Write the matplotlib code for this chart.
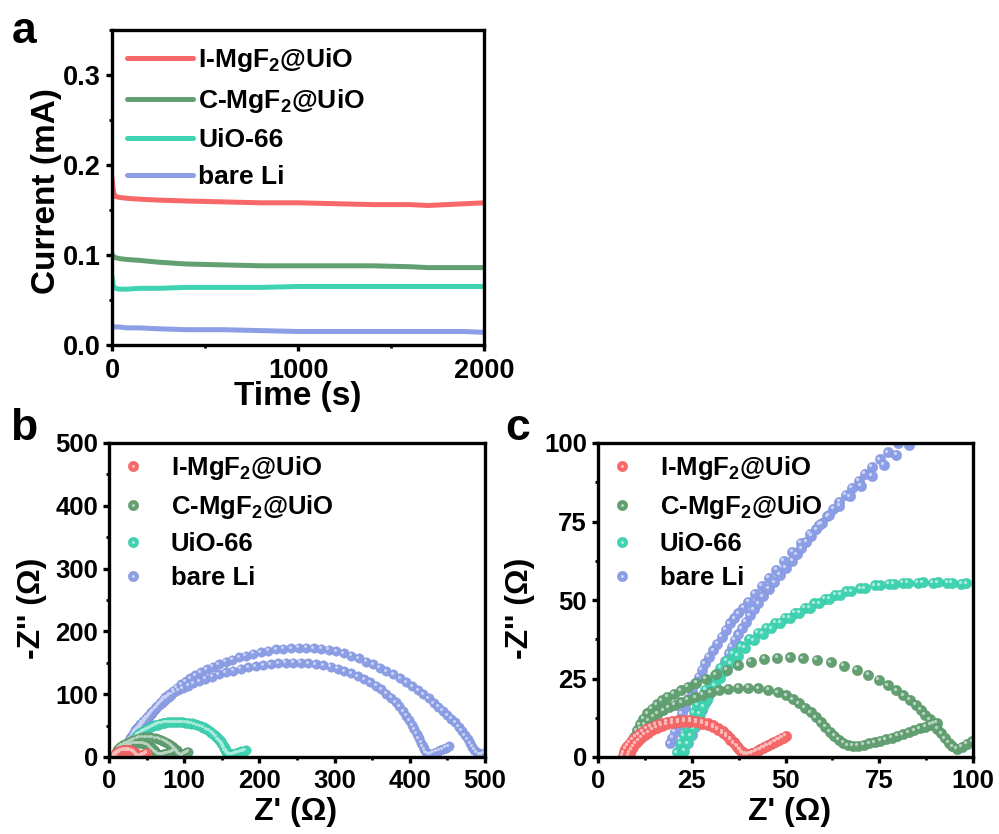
import matplotlib
matplotlib.use("Agg")
import matplotlib.pyplot as plt
from matplotlib.ticker import MultipleLocator
from matplotlib.transforms import offset_copy
from matplotlib.lines import Line2D
import numpy as np

plt.rcParams['font.family'] = ['Liberation Sans', 'DejaVu Sans']
plt.rcParams['font.weight'] = 'bold'
plt.rcParams['mathtext.fontset'] = 'custom'
plt.rcParams['mathtext.rm'] = 'Liberation Sans:bold'
plt.rcParams['mathtext.bf'] = 'Liberation Sans:bold'
plt.rcParams['mathtext.it'] = 'Liberation Sans:bold'
plt.rcParams['mathtext.default'] = 'bf'

# ---------------- data ----------------
labels = ["I-MgF$_2$@UiO", "C-MgF$_2$@UiO", "UiO-66", "bare Li"]
colors = ["#F86868", "#62A072", "#3FD3B2", "#8C9FE6"]

# (a) chronoamperometry
time_s = [0, 5, 10, 20, 40, 80, 150, 250, 400, 600, 800, 1000, 1200, 1400, 1600, 1700, 1800, 1900, 2000]
current_I = [0.186, 0.175, 0.168, 0.165, 0.164, 0.163, 0.162, 0.161, 0.160, 0.159, 0.158, 0.158, 0.157, 0.156, 0.156, 0.155, 0.156, 0.157, 0.158]
current_C = [0.101, 0.099, 0.098, 0.097, 0.096, 0.095, 0.094, 0.092, 0.090, 0.089, 0.088, 0.088, 0.088, 0.088, 0.087, 0.086, 0.086, 0.086, 0.086]
current_U = [0.077, 0.068, 0.064, 0.063, 0.062, 0.062, 0.063, 0.063, 0.064, 0.064, 0.064, 0.065, 0.065, 0.065, 0.065, 0.065, 0.065, 0.065, 0.065]
current_B = [0.021, 0.021, 0.020, 0.020, 0.020, 0.019, 0.019, 0.018, 0.017, 0.017, 0.016, 0.015, 0.015, 0.015, 0.015, 0.015, 0.015, 0.015, 0.014]

# (b, c) Nyquist data: (Z', -Z'') pairs in ohm, two spectra per sample
imgf_run1 = [(6.6,0.4),(6.9,1.5),(7.3,2.6),(7.8,3.6),(8.4,4.6),(9.1,5.5),(9.9,6.4),(10.8,7.3),(11.8,8.1),
             (12.9,8.9),(14.1,9.6),(15.4,10.2),(16.8,10.8),(18.3,11.2),(19.8,11.5),(21.4,11.7),(23.0,11.8),
             (24.6,11.8),(26.2,11.6),(27.8,11.3),(29.3,10.8),(30.7,10.1),(32.0,9.2),(33.2,8.2),(34.3,7.1),
             (35.3,5.9),(36.2,4.7),(37.0,3.5),(37.7,2.4),(38.4,1.5),(39.1,0.9),(40.0,0.8),(41.0,1.2),
             (42.0,1.7),(43.0,2.3),(44.0,2.9),(45.0,3.5),(46.0,4.1),(47.0,4.8),(48.0,5.5),(49.0,6.1),(50.0,6.8)]
imgf_run2 = [(8.2,0.3),(8.5,1.3),(8.9,2.3),(9.4,3.3),(10.0,4.3),(10.7,5.2),(11.5,6.1),(12.4,7.0),(13.4,7.8),
             (14.5,8.6),(15.7,9.3),(17.0,9.9),(18.4,10.4),(19.9,10.8),(21.4,11.1),(23.0,11.2),(24.6,11.2),
             (26.2,11.0),(27.8,10.6),(29.3,10.1),(30.7,9.4),(32.0,8.6),(33.2,7.6),(34.3,6.6),(35.3,5.5),
             (36.2,4.4),(37.1,3.3),(37.9,2.3),(38.6,1.5),(39.4,1.0),(40.3,1.0),(41.3,1.4),(42.3,1.9),
             (43.3,2.5),(44.3,3.1),(45.3,3.7),(46.3,4.3),(47.3,4.9),(48.3,5.5),(49.3,6.2)]
cmgf_run1 = [(7.9,0.5),(8.4,2.3),(9.0,4.1),(9.7,5.8),(10.5,7.4),(11.4,8.9),(12.4,10.3),(13.5,11.6),(14.7,12.8),
             (16.0,13.9),(17.4,14.9),(18.9,15.8),(20.5,16.6),(22.2,17.4),(24.0,18.2),(25.9,19.0),(27.9,19.8),
             (30.0,20.6),(32.2,21.3),(34.7,21.8),(37.4,22.1),(40.1,22.1),(42.7,21.9),(45.4,21.4),(48.0,20.6),
             (50.2,19.6),(52.0,18.4),(53.6,17.1),(55.2,15.7),(56.7,14.2),(58.1,12.7),(59.4,11.1),(60.6,9.6),
             (61.8,8.1),(63.0,6.7),(64.2,5.5),(65.4,4.5),(66.6,3.8),(67.9,3.5),(69.3,3.6),(70.8,3.9),
             (72.3,4.3),(73.8,4.7),(75.3,5.2),(76.8,5.7),(78.3,6.2),(79.8,6.8),(81.3,7.3),(82.8,7.9),
             (84.3,8.5),(85.8,9.1),(87.3,9.7),(88.8,10.3),(90.3,10.9)]
cmgf_run2 = [(8.2,0.5),(8.6,2.5),(9.1,4.5),(9.7,6.5),(10.4,8.5),(11.2,10.4),(12.1,12.2),(13.1,13.9),(14.3,15.4),
             (15.6,16.8),(17.0,18.0),(18.5,19.1),(20.2,20.1),(22.0,21.2),(24.0,22.4),(26.2,23.7),(28.7,25.0),
             (31.4,26.4),(34.3,27.8),(37.4,29.2),(40.8,30.4),(44.3,31.2),(47.8,31.6),(51.2,31.7),(54.6,31.4),
             (58.3,30.9),(62.0,30.1),(65.6,29.0),(69.0,27.7),(72.1,26.2),(74.8,24.6),(77.2,22.9),(79.5,21.3),
             (81.4,19.7),(83.2,18.2),(84.8,16.6),(86.0,15.0),(87.2,13.5),(88.4,12.0),(89.4,10.6),(90.5,9.0),
             (91.5,7.5),(92.5,6.0),(93.5,4.6),(94.5,3.4),(95.7,2.7),(97.0,3.3),(98.4,4.2),(99.8,5.0),
             (101.2,5.8),(102.6,6.6),(104.0,7.4),(105.4,8.2)]
uio_run1 = [(21.0,1.5),(21.9,4.2),(22.8,6.8),(23.7,9.3),(24.6,11.8),(25.5,14.2),(26.5,16.6),(27.5,19.0),
            (28.6,21.4),(29.8,23.8),(31.1,26.1),(32.6,28.4),(34.2,30.7),(36.0,33.0),(38.0,35.3),(40.3,37.7),
            (42.6,39.5),(44.9,41.2),(47.3,42.8),(49.8,44.4),(52.4,46.0),(55.1,47.6),(57.7,49.0),(60.4,50.4),
            (63.3,51.7),(66.2,52.8),(69.9,53.8),(73.8,54.7),(77.5,55.1),(81.3,55.4),(85.3,55.5),(89.3,55.5),
            (93.1,55.4),(96.9,55.2),(101,54.8),(105,54.2),(109,53.3),(113,52.2),(117,50.7),(121,49.0),
            (125,46.8),(129,44.2),(132.5,41.6),(136,38.6),(139,35.4),(142,32.0),(144.5,28.5),(147,25.0),
            (149,21.5),(151,18.0),(152.5,14.5),(154,11.0),(155.5,8.0),(157,5.5),(159,4.0),(161.5,3.8),
            (164,4.5),(167,5.5),(170,6.8),(173,8.0),(176,9.2),(179,10.3)]
uio_run2 = [(23.0,2.0),(23.8,4.4),(24.6,6.8),(25.4,9.1),(26.3,11.4),(27.2,13.7),(28.1,16.0),(29.1,18.3),
            (30.1,20.6),(31.2,22.9),(32.4,25.2),(33.8,27.5),(35.4,29.9),(37.2,32.3),(39.2,34.7),(41.5,37.2),
            (43.9,39.2),(46.2,41.0),(48.6,42.7),(51.1,44.3),(53.7,45.9),(56.4,47.5),(59.0,48.9),(61.7,50.3),
            (64.6,51.6),(67.5,52.8),(71.2,53.8),(75.1,54.7),(78.8,55.2),(82.6,55.5),(86.6,55.6),(90.6,55.6),
            (94.4,55.5),(98.2,55.3),(102,54.9),(106,54.3),(110,53.5),(114,52.4),(118,51.0),(122,49.3),
            (126,47.2),(130,44.7),(134,41.8),(137.5,38.8),(140.5,35.5),(143.5,32.0),(146,28.5),(148.5,25.0),
            (150.5,21.5),(152.5,18.0),(154,14.5),(155.5,11.0),(157,8.0),(158.5,5.5),(160.5,4.2),(163,4.0),
            (166,4.7),(169,5.7),(172,7.0),(175.5,8.3),(179,9.6),(182,10.8)]
bare_run1 = [(24.1,4.4),(25.0,7.0),(25.9,9.7),(26.8,12.4),(27.7,15.0),(28.5,17.1),(29.4,19.2),(30.3,21.3),
             (31.2,23.5),(32.1,25.8),(33.0,28.2),(33.9,30.6),(34.8,33.0),(35.6,35.1),(36.5,37.3),(37.4,39.1),
             (38.3,41.0),(39.4,43.1),(40.5,45.2),(41.6,47.1),(42.7,49.0),(44.0,51.2),(45.5,53.5),(47.0,55.7),
             (48.5,58.0),(50.1,60.2),(51.8,62.5),(53.0,64.5),(54.2,66.5),(55.5,68.5),(56.9,70.5),(58.2,72.5),
             (59.6,74.5),(61.1,76.7),(62.7,79.0),(64.3,81.2),(66.0,83.5),(67.7,85.7),(69.5,88.0),(71.2,90.2),
             (73.0,92.5),(75.1,94.8),(77.3,97.0),(80,100.0),(85,105.5),(90,110.5),(96,116.0),(102,121.0),
             (108,125.5),(115,130.5),(122,135.0),(130,139.5),(138,143.5),(146,147.5),(155,151.5),(164,155.0),
             (173,158.5),(182,161.5),(192,164.5),(202,167.0),(212,169.3),(222,171.2),(232,172.7),(242,173.7),
             (252,174.2),(262,174.2),(272,173.7),(282,172.7),(292,171.0),(302,168.6),(312,165.3),(322,161.0),
             (332,157.0),(342,152.0),(351,147.5),(360,142.5),(369,137.0),(378,131.5),(387,125.5),(395,119.5),
             (403,113.0),(411,106.5),(418,100.0),(425,93.5),(432,86.0),(438,80.0),(444,73.5),(450,67.0),
             (455,61.0),(460,55.0),(465,48.0),(469,42.0),(473,35.0),(477,28.0),(480,22.0),(483,16.5),
             (486,11.5),(489,7.5),(492,4.5),(495,3.5),(498,5.0),(501,8.0)]
bare_run2 = [(19.2,4.4),(19.8,6.2),(20.4,8.0),(21.0,9.7),(21.7,11.8),(22.4,13.9),(23.2,16.0),(24.1,18.5),
             (25.0,21.0),(25.9,23.5),(26.8,25.6),(27.6,27.7),(28.5,29.8),(29.6,31.9),(30.7,34.0),(31.8,36.1),
             (33.0,38.3),(34.1,40.5),(35.2,42.6),(36.3,44.2),(37.4,45.8),(38.7,47.6),(40.1,49.5),(41.8,52.0),
             (43.6,54.5),(45.5,57.0),(47.5,59.7),(49.6,62.5),(51.8,65.3),(54.1,68.2),(56.5,71.1),(59.0,74.0),
             (61.6,77.0),(64.3,80.0),(67.1,83.1),(70.0,86.3),(73.0,89.6),(76.2,93.0),(79.5,96.3),(83,99.5),
             (87,102.8),(92,106.3),(98,110.0),(105,113.8),(112,117.3),(120,121.0),(128,124.5),(137,128.0),
             (146,131.5),(155,134.6),(165,137.6),(175,140.3),(185,142.7),(195,144.8),(205,146.6),(215,148.1),
             (225,149.3),(235,150.0),(245,150.3),(255,150.2),(265,149.5),(275,148.0),(285,146.0),(295,143.5),
             (304,140.5),(313,137.0),(322,133.0),(331,128.5),(339,124.0),(347,119.0),(355,113.5),(362,107.5),
             (369,101.0),(375,94.5),(381,87.5),(386,80.5),(391,73.0),(395,66.0),(399,58.5),(403,51.0),
             (406,44.0),(409,37.0),(412,30.0),(415,23.0),(417,17.0),(419,12.0),(421,8.0),(423,5.5),
             (426,4.8),(429,5.5),(432,7.0),(436,8.5),(440,10.5),(444,12.5),(448,14.8),(452,17.0)]

spectra = [[imgf_run1, imgf_run2], [cmgf_run1, cmgf_run2], [uio_run1, uio_run2], [bare_run1, bare_run2]]

# ---------------- helpers ----------------
def lighten(c, f):
    r, g, b = matplotlib.colors.to_rgb(c)
    return (r + (1 - r) * f, g + (1 - g) * f, b + (1 - b) * f)

def darken(c, f):
    r, g, b = matplotlib.colors.to_rgb(c)
    return (r * (1 - f), g * (1 - f), b * (1 - f))

W, H = 999, 834
fig = plt.figure(figsize=(W / 100, H / 100), dpi=100)

def px_axes(l, t, r, b):
    return fig.add_axes([l / W, 1 - b / H, (r - l) / W, (b - t) / H])

def style_axes(ax, fs):
    for s in ax.spines.values():
        s.set_linewidth(2.4)
        s.set_zorder(10)
    ax.tick_params(which='major', direction='out', length=4, width=2.4, labelsize=fs, pad=4,
                   top=False, right=False)
    ax.tick_params(which='minor', direction='out', length=2.5, width=2.0, top=False, right=False)
    ax.tick_params(axis='x', which='major', pad=5)
    for lab in ax.get_xticklabels() + ax.get_yticklabels():
        lab.set_fontweight('bold')

def spheres(ax, pts, color, s, z):
    x = [p[0] for p in pts]
    y = [p[1] for p in pts]
    d = np.sqrt(s)
    ax.scatter(x, y, s=s, color=color, edgecolors=darken(color, 0.08), linewidths=0.3, zorder=z)
    hl = offset_copy(ax.transData, fig=fig, x=-0.15 * d, y=0.15 * d, units='points')
    ax.scatter(x, y, s=s * 0.10, color=lighten(color, 0.55), linewidths=0, transform=hl, zorder=z + 0.1)

# ---------------- panel a ----------------
axa = px_axes(112, 30, 484, 345)
curr = [current_I, current_C, current_U, current_B]
for lab, col, yv in zip(labels, colors, curr):
    axa.plot(time_s, yv, color=col, lw=3.6, label=lab, solid_capstyle='round')
axa.set_xlim(0, 2000)
axa.set_ylim(0, 0.35)
axa.xaxis.set_major_locator(MultipleLocator(1000))
axa.xaxis.set_minor_locator(MultipleLocator(500))
axa.yaxis.set_major_locator(MultipleLocator(0.1))
axa.yaxis.set_minor_locator(MultipleLocator(0.05))
style_axes(axa, 19.5)
axa.set_xlabel("Time (s)", fontsize=24, fontweight='bold')
axa.set_ylabel("Current (mA)", fontsize=24, fontweight='bold')
axa.xaxis.set_label_coords(0.5, -0.165)
axa.xaxis.label.set_va('center')
axa.yaxis.set_label_coords(-0.175, 0.49)
axa.yaxis.label.set_va('center')
axa.legend(loc='upper left', bbox_to_anchor=(0.04, 0.95), frameon=False, fontsize=19,
           handlelength=2.5, handletextpad=0.2, labelspacing=0.5, borderpad=0, borderaxespad=0)

# ---------------- panels b, c ----------------
def nyquist(ax, s, lim, major, minor):
    order = [3, 2, 1, 0]
    for i in order:
        for run in spectra[i]:
            spheres(ax, run, colors[i], s, 3 + (3 - i))
    ax.set_xlim(0, lim)
    ax.set_ylim(0, lim)
    ax.xaxis.set_major_locator(MultipleLocator(major))
    ax.xaxis.set_minor_locator(MultipleLocator(minor))
    ax.yaxis.set_major_locator(MultipleLocator(major))
    ax.yaxis.set_minor_locator(MultipleLocator(minor))
    style_axes(ax, 18.5)
    ax.set_xlabel("Z' (Ω)", fontsize=23, fontweight='bold')
    ax.set_ylabel("-Z'' (Ω)", fontsize=23, fontweight='bold')
    ax.xaxis.label.set_va('center')
    ax.yaxis.label.set_va('center')
    handles = []
    for i in range(4):
        base = Line2D([], [], ls='none', marker='o', ms=7.5, color=colors[i],
                      markeredgecolor=darken(colors[i], 0.08), markeredgewidth=0.3)
        hi = Line2D([], [], ls='none', marker='o', ms=2.2, color=lighten(colors[i], 0.55),
                    markeredgewidth=0)
        handles.append((base, hi))
    ax.legend(handles, labels, loc='upper left', bbox_to_anchor=(0.024, 0.965), frameon=False,
              fontsize=18.5, handlelength=1.2, handletextpad=0.85, labelspacing=0.42,
              borderpad=0, borderaxespad=0, numpoints=1)

axb = px_axes(109, 443, 485, 757)
nyquist(axb, 46, 500, 100, 50)
axb.xaxis.set_label_coords(0.497, -0.175)
axb.yaxis.set_label_coords(-0.205, 0.475)

axc = px_axes(598, 443, 973, 757)
nyquist(axc, 56, 100, 25, 12.5)
axc.xaxis.set_label_coords(0.512, -0.175)
axc.yaxis.set_label_coords(-0.208, 0.475)

# panel letters
fig.text(12 / W, 1 - 43 / H, "a", fontsize=32, fontweight='bold', va='baseline')
fig.text(10 / W, 1 - 440 / H, "b", fontsize=32, fontweight='bold', va='baseline')
fig.text(505 / W, 1 - 440 / H, "c", fontsize=32, fontweight='bold', va='baseline')

fig.savefig("out.png", dpi=100)
